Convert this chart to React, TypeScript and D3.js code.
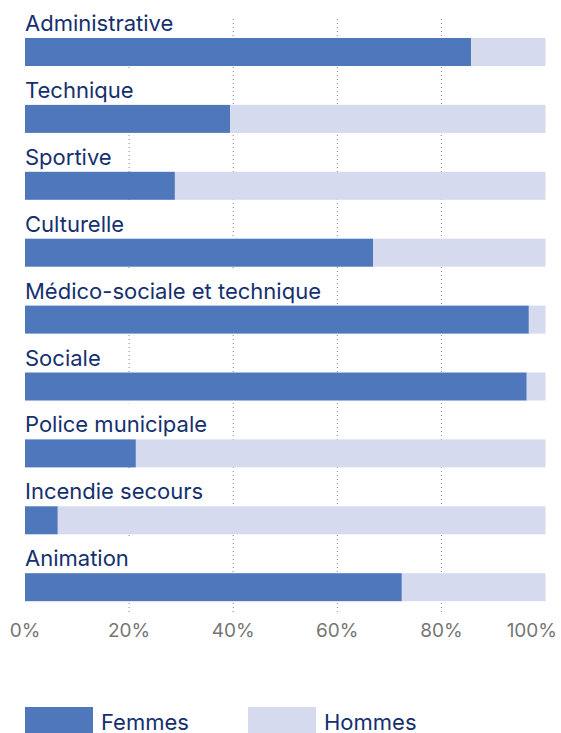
import React from "react";
import * as d3 from "d3";

const categories = [
  "Administrative",
  "Technique",
  "Sportive",
  "Culturelle",
  "Médico-sociale et technique",
  "Sociale",
  "Police municipale",
  "Incendie secours",
  "Animation",
];
const femmes = [85.7, 39.4, 28.8, 66.9, 96.8, 96.4, 21.3, 6.3, 72.4];
const hommes = femmes.map((v) => 100 - v);
const tickValues = [0, 20, 40, 60, 80, 100];
const gridValues = [20, 40, 60, 80];
const seriesNames = ["Femmes", "Hommes"];

const W = 561;
const H = 733;
const FONT = "Inter, 'Noto Sans', sans-serif";
const C_F = "#4f77bb";
const C_H = "#d5daee";
const C_TXT = "#15306e";
const C_TICK = "#767676";

function measure(text: string, font: string) {
  const c = document.createElement("canvas").getContext("2d")!;
  c.font = font;
  return c.measureText(text).width;
}

export default function App() {
  const x = d3.scaleLinear().domain([0, 100]).range([25, 545.5]);
  const step = 66.9;
  const bh = 28;
  const pi = 1 - bh / step;
  const start = 38 - (pi / 2) * step;
  const y = d3
    .scaleBand<string>()
    .domain(categories)
    .range([start, start + categories.length * step])
    .paddingInner(pi)
    .paddingOuter(pi / 2);

  const stack = d3
    .stack<any>()
    .keys(seriesNames)(
      categories.map((c, i) => ({ cat: c, Femmes: femmes[i], Hommes: hommes[i] }))
    );
  const colors = [C_F, C_H];

  return (
    <svg
      width={W}
      height={H}
      style={{ position: "absolute", left: 0, top: 0, background: "#fff" }}
      fontFamily={FONT}
    >
      <rect width={W} height={H} fill="#fff" />
      {gridValues.map((g) => (
        <line
          key={g}
          x1={x(g)}
          x2={x(g)}
          y1={19}
          y2={613}
          stroke="#8a8a8a"
          strokeWidth={1}
          strokeDasharray="1,3"
        />
      ))}
      {categories.map((c) => {
        const w = measure(c, `22px ${FONT}`);
        const top = y(c)!;
        return (
          <g key={c}>
            <rect x={23} y={top - 36} width={w + 8} height={36} fill="#fff" />
            <text x={25} y={top - 7} fontSize={22} fill={C_TXT}>
              {c}
            </text>
          </g>
        );
      })}
      {stack.map((s, si) =>
        s.map((d: any, i: number) => (
          <rect
            key={si + "-" + i}
            x={x(d[0])}
            y={y(categories[i])}
            width={x(d[1]) - x(d[0])}
            height={y.bandwidth()}
            fill={colors[si]}
          />
        ))
      )}
      {tickValues.map((t, i) => {
        const last = i === tickValues.length - 1;
        return (
          <text
            key={t}
            x={last ? 557 : x(t)}
            y={637}
            textAnchor={last ? "end" : "middle"}
            fontSize={19}
            fill={C_TICK}
          >
            {t}%
          </text>
        );
      })}
      {seriesNames.map((n, i) => {
        const lx = 25 + i * 223;
        return (
          <g key={n}>
            <rect x={lx} y={707} width={68} height={30} fill={colors[i]} />
            <text x={lx + 76} y={730} fontSize={22} fill={C_TXT}>
              {n}
            </text>
          </g>
        );
      })}
    </svg>
  );
}
